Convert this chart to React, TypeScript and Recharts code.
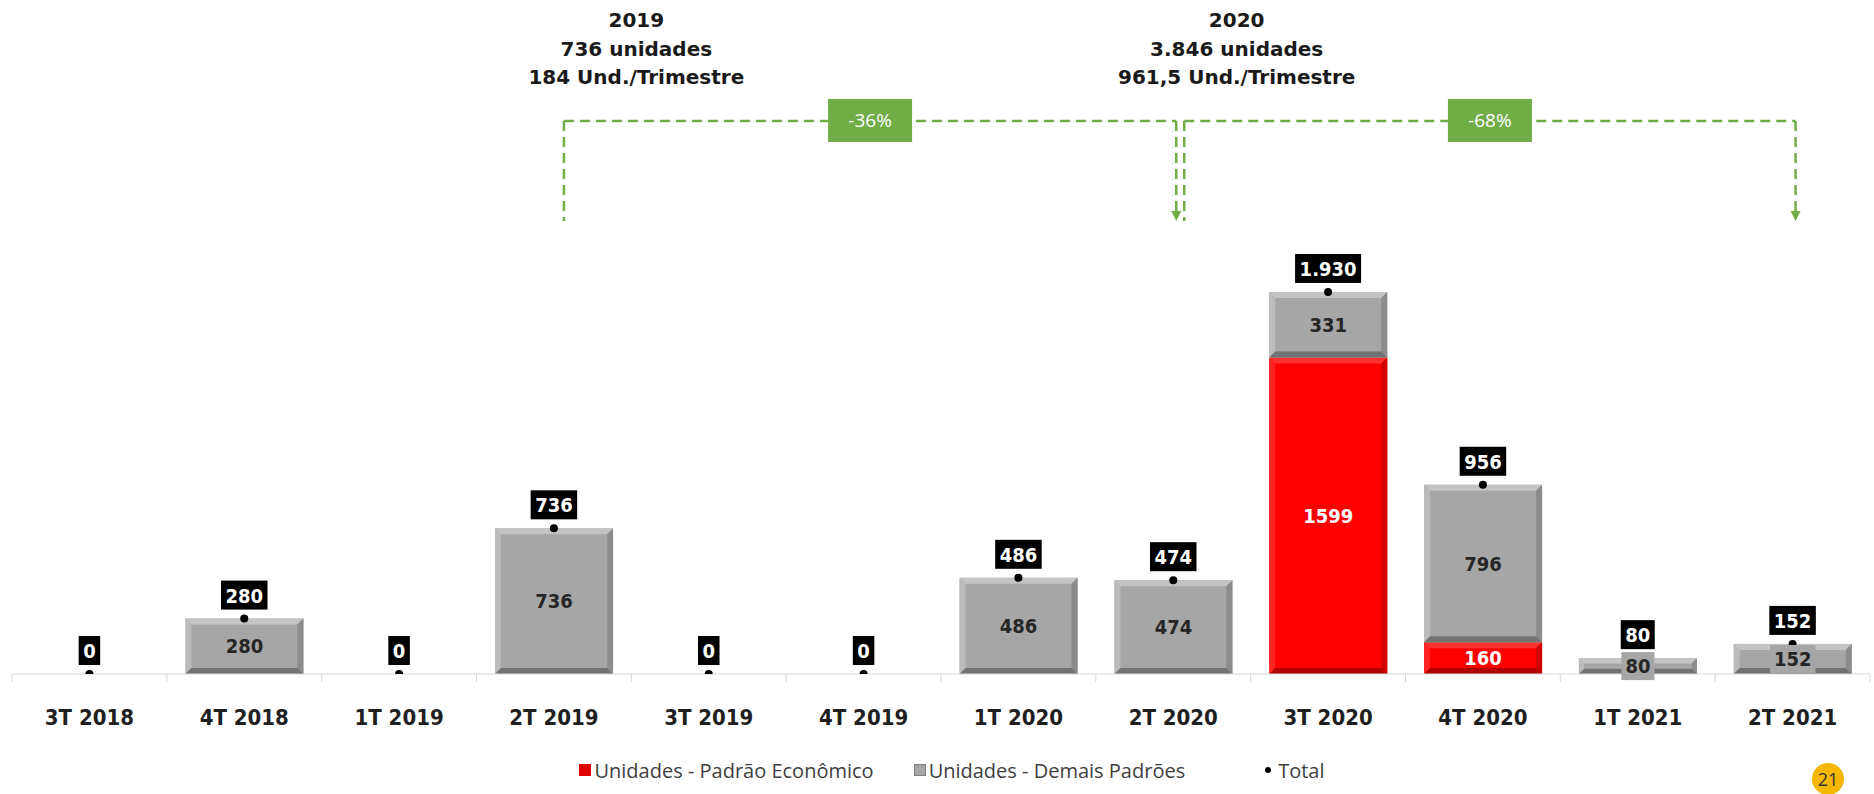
import { Bar, ComposedChart, Legend, Line, ReferenceLine, XAxis, YAxis } from "recharts";

const WIDTH = 1874;
const HEIGHT = 794;
const MARGIN = { top: 1, right: 4, bottom: 0, left: 12 };
const BAND = (WIDTH - MARGIN.left - MARGIN.right) / 12;
const GREEN = "#70ad47";

const quarters = [
  "3T 2018", "4T 2018", "1T 2019", "2T 2019", "3T 2019", "4T 2019",
  "1T 2020", "2T 2020", "3T 2020", "4T 2020", "1T 2021", "2T 2021",
];
const economico = [0, 0, 0, 0, 0, 0, 0, 0, 1599, 160, 0, 0];
const demais = [0, 280, 0, 736, 0, 0, 486, 474, 331, 796, 80, 152];
const totals = [0, 280, 0, 736, 0, 0, 486, 474, 1930, 956, 80, 152];
const seriesNames = ["Unidades - Padrão Econômico", "Unidades - Demais Padrões", "Total"];

const periodTitle = ["2019", "2020"];
const periodUnits = ["736 unidades", "3.846 unidades"];
const periodPerQuarter = ["184 Und./Trimestre", "961,5 Und./Trimestre"];
const periodChange = ["-36%", "-68%"];
const periodFrom = ["2T 2019", "2T 2020"];
const periodNext = ["3T 2019", "3T 2020"];
const periodTo = ["2T 2020", "2T 2021"];

const data = quarters.map((quarter, i) => ({
  quarter,
  economico: economico[i],
  demais: demais[i],
  total: totals[i],
}));

// annotation heights, in axis units
const TITLE_Y = 3165;
const BRACKET_Y = 2794;
const ARROW_Y = 2289;

const fmt = (v: number) => String(v).replace(/\B(?=(\d{3})+(?!\d))/g, ".");

const dashed = { stroke: GREEN, strokeWidth: 2.5, strokeDasharray: "10 6", fill: "none" };

function bevelShape(face: string, light: string, side: string, dark: string) {
  return (p: any) => {
    const { x, y, width, height } = p;
    if (!height || height <= 0) return <g />;
    const b = Math.min(6, height / 3, width / 3);
    const r = x + width;
    const btm = y + height;
    return (
      <g>
        <rect x={x} y={y} width={width} height={height} fill={face} />
        <polygon points={`${x},${y} ${r},${y} ${r - b},${y + b} ${x + b},${y + b}`} fill={light} />
        <polygon points={`${x},${y} ${x + b},${y + b} ${x + b},${btm - b} ${x},${btm}`} fill={light} opacity={0.7} />
        <polygon points={`${r},${y} ${r},${btm} ${r - b},${btm - b} ${r - b},${y + b}`} fill={side} />
        <polygon points={`${x},${btm} ${r},${btm} ${r - b},${btm - b} ${x + b},${btm - b}`} fill={dark} />
      </g>
    );
  };
}

function segmentLabel(values: number[], color: string, bg?: string) {
  return (p: any) => {
    const { x, y, width, height, index } = p;
    const value = values[index];
    if (!value) return <g />;
    const cx = x + width / 2;
    const cy = y + height / 2;
    const w = String(value).length * 12.5 + 8;
    return (
      <g>
        {bg && <rect x={cx - w / 2} y={cy - 14} width={w} height={28} fill={bg} />}
        <text x={cx} y={cy + 7} textAnchor="middle" fill={color}
          style={{ fontFamily: "'DejaVu Sans Condensed', 'DejaVu Sans'", fontWeight: 700, fontSize: 20 }}>
          {value}
        </text>
      </g>
    );
  };
}

function TotalLabel(p: any) {
  const { x, y, index } = p;
  const s = fmt(totals[index]);
  const w = s.replace(/\./g, "").length * 12.5 + (s.includes(".") ? 7 : 0) + 9;
  return (
    <g>
      <rect x={x - w / 2} y={y - 38} width={w} height={29} fill="#000" />
      <text x={x} y={y - 16} textAnchor="middle" fill="#fff"
        style={{ fontFamily: "'DejaVu Sans Condensed', 'DejaVu Sans'", fontWeight: 700, fontSize: 20 }}>
        {s}
      </text>
    </g>
  );
}

function QuarterTick(p: any) {
  const { x, y, payload, index } = p;
  return (
    <g>
      <line x1={x - BAND / 2} y1={y - 2} x2={x - BAND / 2} y2={y + 6} stroke="#d9d9d9" />
      {index === quarters.length - 1 && (
        <line x1={x + BAND / 2} y1={y - 2} x2={x + BAND / 2} y2={y + 6} stroke="#d9d9d9" />
      )}
      <text x={x} y={y + 49} textAnchor="middle" fill="#1f1f1f"
        style={{ fontFamily: "'DejaVu Sans Condensed', 'DejaVu Sans'", fontWeight: 700, fontSize: 22 }}>
        {payload.value}
      </text>
    </g>
  );
}

function lineShape(dx1: number, dx2: number, arrow: boolean, badge?: string) {
  return (p: any) => {
    const x1 = p.x1 + dx1;
    const x2 = p.x2 + dx2;
    const y2 = arrow ? p.y2 - 8 : p.y2;
    const mx = (x1 + x2) / 2;
    return (
      <g>
        <line x1={x1} y1={p.y1} x2={x2} y2={y2} {...dashed} />
        {arrow && <polygon points={`${x2 - 5},${p.y2 - 10} ${x2 + 5},${p.y2 - 10} ${x2},${p.y2}`} fill={GREEN} />}
        {badge && (
          <g>
            <rect x={mx - 42} y={p.y1 - 22} width={84} height={43} fill={GREEN} />
            <text x={mx} y={p.y1 + 6} textAnchor="middle" fill="#fff"
              style={{ fontFamily: "'Open Sans'", fontSize: 19 }}>
              {badge}
            </text>
          </g>
        )}
      </g>
    );
  };
}

function titleShape(i: number, dx: number) {
  return (p: any) => {
    const cx = (p.x1 + p.x2) / 2 + dx;
    const st = { fontFamily: "'DejaVu Sans'", fontWeight: 700, fontSize: 20 } as const;
    return (
      <g fill="#1a1a1a">
        <text x={cx} y={p.y1 - 21} textAnchor="middle" style={st}>{periodTitle[i]}</text>
        <text x={cx} y={p.y1 + 8} textAnchor="middle" style={st}>{periodUnits[i]}</text>
        <text x={cx} y={p.y1 + 36} textAnchor="middle" style={st}>{periodPerQuarter[i]}</text>
      </g>
    );
  };
}

function renderLegend() {
  return (
    <div style={{ height: 56, display: "flex", justifyContent: "center", alignItems: "center", paddingLeft: 30, paddingTop: 8, boxSizing: "border-box", fontFamily: "'Open Sans'", fontSize: 20, color: "#404040" }}>
      {seriesNames.map((name, i) => (
        <span key={name} style={{ display: "inline-flex", alignItems: "center", marginRight: i === 0 ? 40 : i === 1 ? 80 : 0 }}>
          {i < 2 ? (
            <span style={{ width: 12, height: 12, background: i === 0 ? "#e00000" : "#a6a6a6", border: i === 1 ? "1px solid #808080" : "none", boxSizing: "border-box", marginRight: 3 }} />
          ) : (
            <span style={{ width: 6, height: 6, borderRadius: 3, background: "#000", marginRight: 7 }} />
          )}
          {name}
        </span>
      ))}
    </div>
  );
}

export default function App() {
  const dxOffsets = [[10, 3], [11, 3]];
  const titleDx = [5, -14];
  return (
    <div style={{ position: "relative", width: WIDTH, height: HEIGHT, background: "#fff" }}>
      <style>{`body{margin:0;}`}</style>
      <ComposedChart width={WIDTH} height={HEIGHT} data={data} margin={MARGIN} barCategoryGap="12%">
        <XAxis dataKey="quarter" axisLine={{ stroke: "#d9d9d9" }} tickLine={false} tickSize={0}
          height={64} interval={0} tick={<QuarterTick />} />
        <YAxis hide domain={[0, 3400]} allowDataOverflow />
        <Legend content={renderLegend} verticalAlign="bottom" wrapperStyle={{ left: 0, width: WIDTH }} />
        <Line dataKey="total" name={seriesNames[2]} stroke="none" legendType="circle"
          dot={{ r: 4, fill: "#000", stroke: "none" }} activeDot={false}
          label={(p: any) => <TotalLabel {...p} />} isAnimationActive={false} />
        <Bar dataKey="economico" name={seriesNames[0]} stackId="u" fill="#ff0000"
          shape={bevelShape("#ff0000", "#ff3030", "#d00000", "#b00000")}
          label={segmentLabel(economico, "#fff")} isAnimationActive={false} />
        <Bar dataKey="demais" name={seriesNames[1]} stackId="u" fill="#a6a6a6"
          shape={bevelShape("#a6a6a6", "#c4c4c4", "#8c8c8c", "#737373")}
          label={segmentLabel(demais, "#262626", "#a6a6a6")} isAnimationActive={false} />
        {periodFrom.map((from, i) => (
          <g key={from}>
            <ReferenceLine segment={[{ x: from, y: TITLE_Y }, { x: periodNext[i], y: TITLE_Y }]}
              shape={titleShape(i, titleDx[i])} />
            <ReferenceLine segment={[{ x: from, y: BRACKET_Y }, { x: periodTo[i], y: BRACKET_Y }]}
              shape={lineShape(dxOffsets[i][0], dxOffsets[i][1], false, periodChange[i])} />
            <ReferenceLine segment={[{ x: from, y: BRACKET_Y }, { x: from, y: ARROW_Y }]}
              shape={lineShape(dxOffsets[i][0], dxOffsets[i][0], false)} />
            <ReferenceLine segment={[{ x: periodTo[i], y: BRACKET_Y }, { x: periodTo[i], y: ARROW_Y }]}
              shape={lineShape(dxOffsets[i][1], dxOffsets[i][1], true)} />
          </g>
        ))}
      </ComposedChart>
      <div style={{ position: "absolute", left: 1812, top: 763, width: 32, height: 32, borderRadius: 16, background: "#f5b700", color: "#333", fontFamily: "'Open Sans'", fontSize: 18, display: "flex", alignItems: "center", justifyContent: "center" }}>
        21
      </div>
    </div>
  );
}
